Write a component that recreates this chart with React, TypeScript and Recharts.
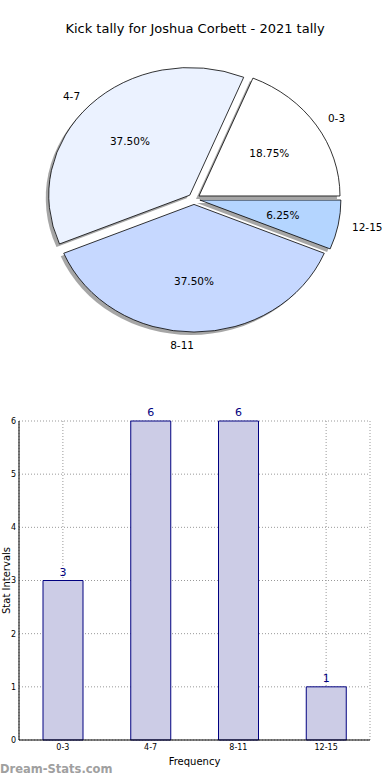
import React from 'react';
import {
  PieChart, Pie, BarChart, Bar, XAxis, YAxis, CartesianGrid, LabelList, Label
} from 'recharts';

// shared data
const categories = ['0-3', '4-7', '8-11', '12-15'];
const counts = [3, 6, 6, 1];
const sliceColors = ['#ffffff', '#ebf2ff', '#c6d8ff', '#b4d5ff'];
const yTicks = [0, 1, 2, 3, 4, 5, 6];

const pieData = categories.map((c, i) => ({ name: c, value: counts[i], fill: sliceColors[i] }));
const barData = categories.map((c, i) => ({ cat: c, count: counts[i] }));

const FONT = '"DejaVu Sans", sans-serif';
const RAD = Math.PI / 180;
const K = 0.905; // vertical squash, the original pie is an ellipse
const EXPLODE = 6;

const sliceCenter = (cx: number, cy: number, mid: number) => ({
  ox: cx + EXPLODE * Math.cos(mid * RAD),
  oy: cy - EXPLODE * Math.sin(mid * RAD) * K,
});

const slicePath = (p: any, dx = 0, dy = 0) => {
  const { cx, cy, outerRadius, startAngle, endAngle } = p;
  const mid = (startAngle + endAngle) / 2;
  let { ox, oy } = sliceCenter(cx, cy, mid);
  ox += dx;
  oy += dy;
  const rx = outerRadius;
  const ry = outerRadius * K;
  const x0 = ox + rx * Math.cos(startAngle * RAD);
  const y0 = oy - ry * Math.sin(startAngle * RAD);
  const x1 = ox + rx * Math.cos(endAngle * RAD);
  const y1 = oy - ry * Math.sin(endAngle * RAD);
  const large = endAngle - startAngle > 180 ? 1 : 0;
  return `M${ox},${oy} L${x0},${y0} A${rx},${ry} 0 ${large} 0 ${x1},${y1} Z`;
};

const SliceShape = (p: any) => (
  <path d={slicePath(p)} fill={p.payload?.fill ?? p.fill} stroke="#000" strokeWidth={0.8} />
);

const ShadowShape = (p: any) => (
  <path d={slicePath(p, -3, 3)} fill="#4d4d4d" fillOpacity={0.5} stroke="none" />
);

const renderPieLabel = (p: any) => {
  const { cx, cy, midAngle, outerRadius, percent, name } = p;
  const { ox, oy } = sliceCenter(cx, cy, midAngle);
  const c = Math.cos(midAngle * RAD);
  const s = Math.sin(midAngle * RAD);
  const rx = outerRadius;
  const ry = outerRadius * K;
  return (
    <g>
      <text x={ox + 1.1 * rx * c} y={oy - 1.1 * ry * s} textAnchor={c > 0 ? 'start' : 'end'}
        dominantBaseline="central" fontSize={10.5} fontFamily={FONT} fill="#000">
        {name}
      </text>
      <text x={ox + 0.6 * rx * c} y={oy - 0.6 * ry * s} textAnchor="middle"
        dominantBaseline="central" fontSize={10.5} fontFamily={FONT} fill="#000">
        {(percent * 100).toFixed(2)}%
      </text>
    </g>
  );
};

export default function App() {
  return (
    <div style={{ position: 'absolute', left: 0, top: 0, width: 390, height: 780, background: '#fff', overflow: 'hidden', fontFamily: FONT }}>
      <div style={{ position: 'absolute', left: 0, top: 21, width: 390, textAlign: 'center', fontSize: 13, color: '#000' }}>
        Kick tally for Joshua Corbett - 2021 tally
      </div>

      <div style={{ position: 'absolute', left: 0, top: 0 }}>
        <PieChart width={390} height={380} margin={{ top: 0, right: 0, bottom: 0, left: 0 }}>
          <Pie data={pieData} dataKey="value" nameKey="name" cx={194} cy={199} outerRadius={141}
            startAngle={0} endAngle={360} shape={ShadowShape} label={false}
            isAnimationActive={false} />
          <Pie data={pieData} dataKey="value" nameKey="name" cx={194} cy={199} outerRadius={141}
            startAngle={0} endAngle={360} shape={SliceShape} label={renderPieLabel} labelLine={false}
            isAnimationActive={false} />
        </PieChart>
      </div>

      <div style={{ position: 'absolute', left: 0, top: 400 }}>
        <BarChart width={390} height={380} data={barData} margin={{ top: 21, right: 20, bottom: 0, left: 0 }}>
          <CartesianGrid stroke="#999" strokeDasharray="1 2" />
          <XAxis dataKey="cat" height={40} tickLine={false} tickSize={0} tickMargin={4}
            axisLine={{ stroke: '#000' }} tick={{ fontSize: 8, fill: '#000', fontFamily: FONT }}>
            <Label value="Frequency" position="insideBottom" offset={15} fontSize={10} fill="#000" fontFamily={FONT} />
          </XAxis>
          <XAxis xAxisId="top" dataKey="cat" orientation="top" height={0} tick={false} tickLine={false}
            axisLine={{ stroke: '#000' }} />
          <YAxis width={19} domain={[0, 6]} ticks={yTicks} tickLine={false} tickSize={0} tickMargin={3}
            axisLine={{ stroke: '#000' }} tick={{ fontSize: 8, fill: '#000', fontFamily: FONT }}>
            <Label value="Stat Intervals" angle={-90} position="center" dx={-3} fontSize={10} fill="#000" fontFamily={FONT} />
          </YAxis>
          <YAxis yAxisId="right" orientation="right" width={0} domain={[0, 6]} tick={false} tickLine={false}
            axisLine={{ stroke: '#000' }} />
          <Bar dataKey="count" barSize={40} fill="#ccccE6" stroke="#000080" strokeWidth={1} isAnimationActive={false}>
            <LabelList dataKey="count" position="top" fill="#000080" fontSize={11} fontFamily={FONT} />
          </Bar>
        </BarChart>
      </div>

      <div style={{ position: 'absolute', left: 0, top: 762, fontSize: 11.5, fontWeight: 'bold', color: '#a0a0a0' }}>
        Dream-Stats.com
      </div>
    </div>
  );
}
